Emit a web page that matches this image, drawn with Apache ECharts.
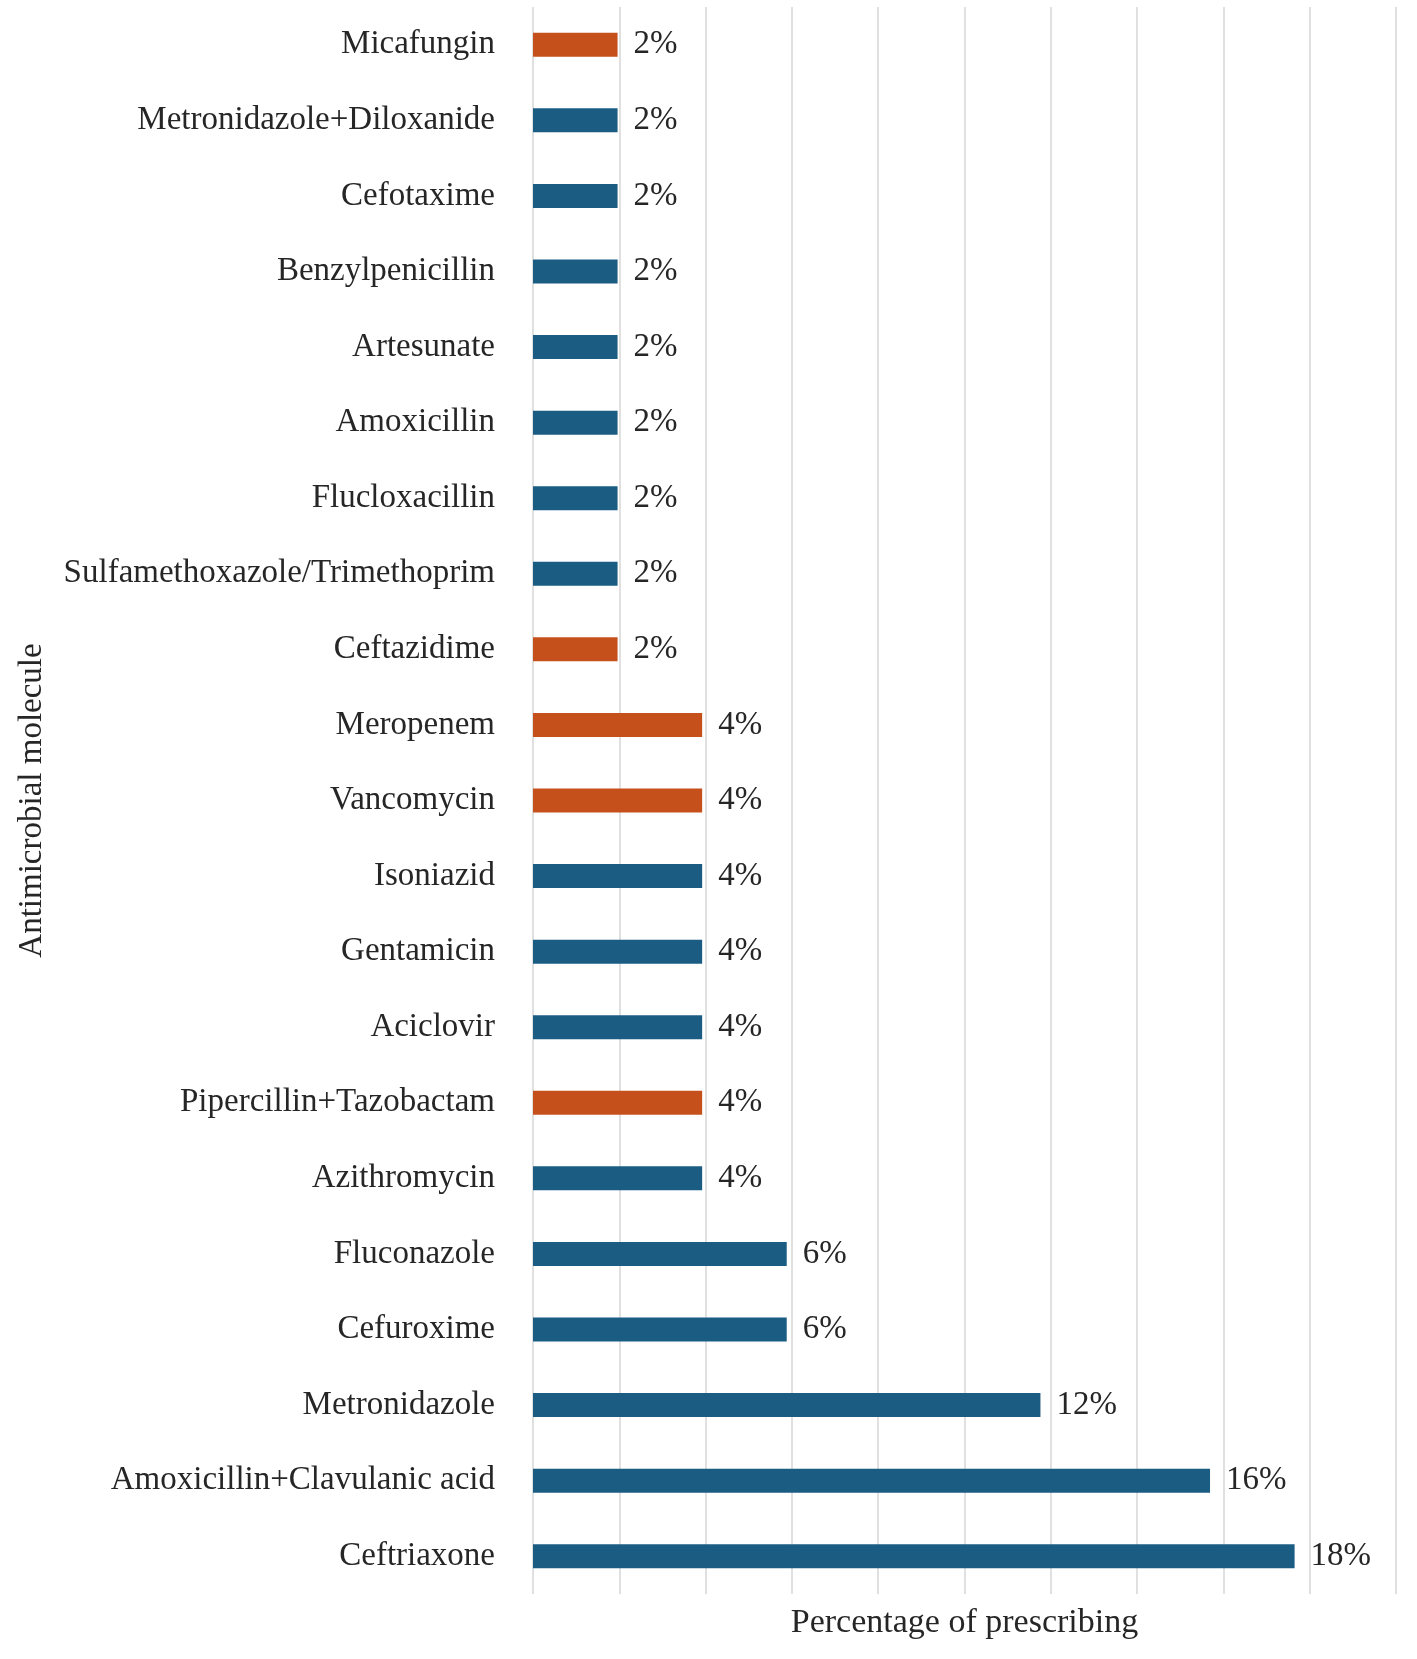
<!DOCTYPE html>
<html>
<head>
<meta charset="utf-8">
<title>Antimicrobial molecule prescribing</title>
<script src="https://cdn.jsdelivr.net/npm/echarts@6/dist/echarts.min.js"></script>
<style>
  html, body { margin: 0; padding: 0; background: #fff; }
  #chart { width: 1417px; height: 1659px; }
</style>
</head>
<body>
<div id="chart"></div>
<script>
// categories listed top to bottom
const molecules = [
  'Micafungin', 'Metronidazole+Diloxanide', 'Cefotaxime', 'Benzylpenicillin',
  'Artesunate', 'Amoxicillin', 'Flucloxacillin', 'Sulfamethoxazole/Trimethoprim',
  'Ceftazidime', 'Meropenem', 'Vancomycin', 'Isoniazid', 'Gentamicin',
  'Aciclovir', 'Pipercillin+Tazobactam', 'Azithromycin', 'Fluconazole',
  'Cefuroxime', 'Metronidazole', 'Amoxicillin+Clavulanic acid', 'Ceftriaxone'
]
// percentage of prescribing (bars end slightly short of the gridlines)
const percents = [
  1.96, 1.96, 1.96, 1.96, 1.96, 1.96, 1.96, 1.96, 1.96,
  3.92, 3.92, 3.92, 3.92, 3.92, 3.92, 3.92,
  5.88, 5.88, 11.76, 15.69, 17.65
]
// molecules drawn in orange
const highlighted = ['Micafungin', 'Ceftazidime', 'Meropenem', 'Vancomycin', 'Pipercillin+Tazobactam']

const BLUE = '#1b5c83'
const ORANGE = '#c5501b'
const FONT = '"Liberation Serif", "Times New Roman", serif'

const chart = echarts.init(document.getElementById('chart'))

chart.setOption({
  animation: false,
  backgroundColor: '#fff',
  grid: { left: 533, right: 21, top: 7, bottom: 65, containLabel: false },
  xAxis: {
    type: 'value',
    min: 0,
    max: 20,
    interval: 2,
    name: 'Percentage of prescribing',
    nameLocation: 'middle',
    nameGap: 12,
    nameTextStyle: { fontFamily: FONT, fontSize: 34, color: '#262626', verticalAlign: 'top' },
    axisLine: { show: false },
    axisTick: { show: false },
    axisLabel: { show: false },
    splitLine: { show: true, lineStyle: { color: '#d6d6d6', width: 1.5 } }
  },
  yAxis: {
    type: 'category',
    inverse: true,
    data: molecules,
    name: 'Antimicrobial molecule',
    nameLocation: 'middle',
    nameGap: 484,
    nameTextStyle: { fontFamily: FONT, fontSize: 33, color: '#262626' },
    axisLine: { show: false },
    axisTick: { show: false },
    splitLine: { show: false },
    axisLabel: {
      margin: 38,
      fontFamily: FONT,
      fontSize: 33,
      color: '#262626'
    }
  },
  series: [{
    type: 'bar',
    barWidth: 24,
    data: percents.map((v, i) => ({
      value: v,
      itemStyle: { color: highlighted.includes(molecules[i]) ? ORANGE : BLUE }
    })),
    label: {
      show: true,
      position: 'right',
      distance: 16,
      fontFamily: FONT,
      fontSize: 33,
      color: '#262626',
      formatter: p => Math.round(p.value) + '%'
    }
  }]
})
</script>
</body>
</html>
